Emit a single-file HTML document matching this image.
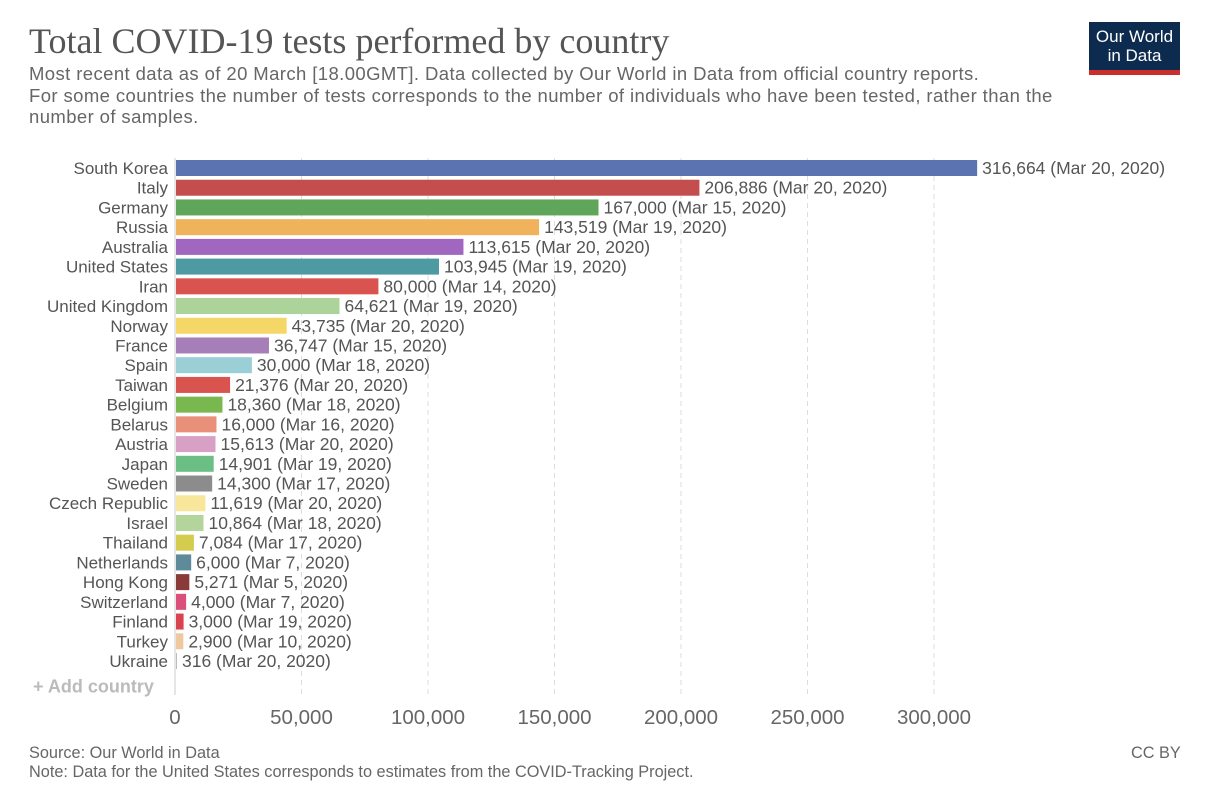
<!DOCTYPE html>
<html><head><meta charset="utf-8"><style>
body{margin:0;background:#fff;width:1205px;height:800px;overflow:hidden;font-family:"Liberation Sans",sans-serif;color:#555}
.t{position:absolute}
</style></head><body>
<div class="t" style="left:29px;top:20px;font-family:'Liberation Serif',serif;font-size:36px;color:#555">Total COVID-19 tests performed by country</div>
<div class="t" style="left:29px;top:63px;font-size:18.5px;letter-spacing:0.4px;line-height:21.5px;color:#666;width:1100px;white-space:nowrap">Most recent data as of 20 March [18.00GMT]. Data collected by Our World in Data from official country reports.<br>For some countries the number of tests corresponds to the number of individuals who have been tested, rather than the<br>number of samples.</div>
<div class="t" style="left:1089px;top:22px;width:91px;background:#0d2b4e;border-bottom:5px solid #c9302c;color:#fff;font-size:17px;line-height:19px;text-align:center;padding-top:5px;height:43px">Our World<br>in Data</div>
<svg id="chart" width="1205" height="800" style="position:absolute;left:0;top:0"></svg>
<div class="t" style="left:29px;top:744px;font-size:16.3px;line-height:19px;color:#666">Source: Our World in Data<br>Note: Data for the United States corresponds to estimates from the COVID-Tracking Project.</div>
<div class="t" style="left:1131px;top:744px;font-size:16.3px;color:#666">CC BY</div>
<script>
const countries=["South Korea","Italy","Germany","Russia","Australia","United States","Iran","United Kingdom","Norway","France","Spain","Taiwan","Belgium","Belarus","Austria","Japan","Sweden","Czech Republic","Israel","Thailand","Netherlands","Hong Kong","Switzerland","Finland","Turkey","Ukraine"];
const values=[316664,206886,167000,143519,113615,103945,80000,64621,43735,36747,30000,21376,18360,16000,15613,14901,14300,11619,10864,7084,6000,5271,4000,3000,2900,316];
const dates=["Mar 20, 2020","Mar 20, 2020","Mar 15, 2020","Mar 19, 2020","Mar 20, 2020","Mar 19, 2020","Mar 14, 2020","Mar 19, 2020","Mar 20, 2020","Mar 15, 2020","Mar 18, 2020","Mar 20, 2020","Mar 18, 2020","Mar 16, 2020","Mar 20, 2020","Mar 19, 2020","Mar 17, 2020","Mar 20, 2020","Mar 18, 2020","Mar 17, 2020","Mar 7, 2020","Mar 5, 2020","Mar 7, 2020","Mar 19, 2020","Mar 10, 2020","Mar 20, 2020"];
const colors=["#5b73b0","#c44e4e","#5fa55a","#f0b35c","#a066c0","#4e9aa3","#d9534f","#acd39a","#f5d768","#a77fb8","#9bcfd6","#d9534f","#79b84f","#e8907a","#d9a0c6","#6cbf84","#8c8c8c","#f8e79a","#b3d49a","#d4cc4e","#5e8a9a","#8b3a3a","#d9507a","#d9434f","#f0c8a0","#bbb"];
const ticks=[0,50000,100000,150000,200000,250000,300000];
const svg=document.getElementById('chart');const NS='http://www.w3.org/2000/svg';
const x0=175,scale=759/300000,y0=168,step=19.72,bh=16;
const X=v=>x0+v*scale, Y=i=>y0+i*step;
function el(t,a){const e=document.createElementNS(NS,t);for(const k in a)e.setAttribute(k,a[k]);svg.appendChild(e);return e;}
ticks.forEach(t=>{
 if(t>0){const g=el('line',{x1:X(t),x2:X(t),y1:158,y2:695,stroke:'#ddd','stroke-dasharray':'5,4'});
 
 }
 const tx=el('text',{x:X(t),y:724,'text-anchor':'middle','font-size':20.5,fill:'#666','font-family':'Liberation Sans, sans-serif'});tx.textContent=t.toLocaleString('en-US');
 
 
});
const ax=el('line',{x1:x0,x2:x0,y1:158,y2:695,stroke:'#ccc'});


countries.forEach((c,i)=>{
 const y=Y(i);
 const l=el('text',{x:168,y:y+6,'text-anchor':'end','font-size':17,fill:'#555','font-family':'Liberation Sans, sans-serif'});l.textContent=c;
 
 
 const w=Math.max(1,X(values[i])-x0);
 const r=el('rect',{x:x0+1,y:y-bh/2,width:w,height:bh,fill:colors[i]});
 
 
 const v=el('text',{x:x0+1+w+5,y:y+6,'font-size':17.5,fill:'#555','font-family':'Liberation Sans, sans-serif'});v.textContent=values[i].toLocaleString('en-US')+' ('+dates[i]+')';
 
 
});
const add=el('text',{x:33,y:Y(26)+12,'font-size':18,fill:'#bbb','font-weight':'bold','font-family':'Liberation Sans, sans-serif'});add.textContent='+ Add country';


</script>
</body></html>
